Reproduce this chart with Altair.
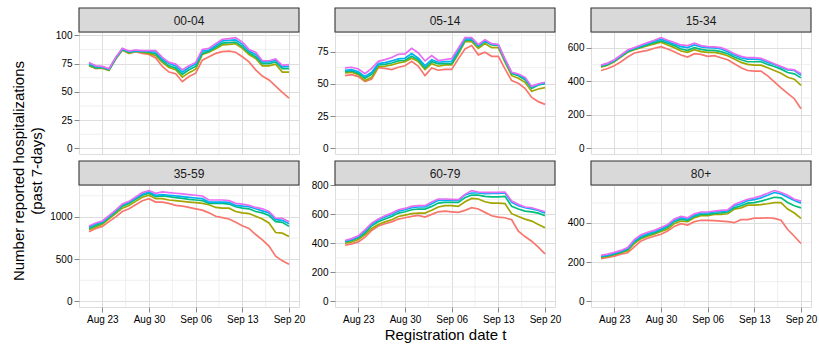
import altair as alt
import pandas as pd

FONT = "Liberation Sans"
W, H = 220, 122

dates = [d.strftime("%Y-%m-%d") for d in pd.date_range("2021-08-21", "2021-09-20")]
series = ["s1", "s2", "s3", "s4", "s5"]
colors = ["#F8766D", "#A3A500", "#00BF7D", "#00B0F6", "#E76BF3"]
ages = ["00-04", "05-14", "15-34", "35-59", "60-79", "80+"]

# ---- 00-04 ----
a0004_s1 = [73.5, 70.5, 71, 69.5, 79, 87, 84, 85.5, 84, 83, 80, 72.5, 67.5, 66, 59, 63.5, 66.5, 78, 81, 84, 85.5, 86, 85, 81, 76.5, 69.5, 64, 60.5, 55, 49.5, 44.5]
a0004_s2 = [73, 71, 71, 69, 79, 87, 84, 86, 85, 84, 82, 76, 71.5, 69.5, 63, 67, 70, 83, 85, 88, 91.5, 92, 92.5, 88.5, 83, 79.5, 73, 73, 74.5, 67.5, 67.5]
a0004_s3 = [74, 71.5, 71.5, 69.5, 79.5, 87.5, 85, 86, 85.5, 85, 83.5, 77.5, 73, 71, 65.5, 69.5, 72.5, 84, 86, 89.5, 93, 93.5, 94, 90, 84.5, 81, 75, 75, 76.5, 70.5, 70.5]
a0004_s4 = [75, 72.5, 72, 70, 80, 88, 85.5, 86.5, 86, 86, 85, 79, 75, 73, 67.5, 71.5, 74.5, 86, 87, 91, 95, 95.5, 96, 92, 86, 83, 76.5, 76.5, 78, 72, 72.5]
a0004_s5 = [76, 73, 72.5, 70.5, 80.5, 88.5, 86, 87, 86.5, 86.5, 86.5, 80.5, 76, 74.5, 69.5, 73, 76, 87.5, 88.5, 92.5, 96.5, 97, 98, 94, 87.5, 85, 77.5, 77.5, 79, 73.5, 74]

# ---- 05-14 ----
a0514_s1 = [56.3, 57.1, 55.6, 51.7, 53.7, 62.5, 62, 61, 62.8, 64, 67.4, 63.6, 56.3, 62.3, 60.5, 61.2, 61.2, 69.3, 77, 79.6, 72.4, 74.4, 71.3, 71.3, 61.5, 52.5, 50.4, 46.5, 39.5, 36.2, 34.1]
a0514_s2 = [58.4, 58.9, 57.1, 52.5, 55, 63.3, 63.6, 64.6, 66.1, 67.2, 69.8, 67.2, 61, 65.6, 63.6, 64.6, 64.6, 73.1, 82.7, 82.7, 77.5, 81.1, 78, 78, 66.7, 56.3, 54.3, 51.2, 44.2, 46, 47]
a0514_s3 = [59.4, 60, 58.1, 54.3, 57.4, 64.6, 65.1, 66.1, 67.7, 68.2, 71.3, 68.5, 62.3, 67.2, 65.4, 65.6, 65.6, 74.4, 83.7, 84, 79, 82.7, 80.1, 79.8, 67.7, 57.9, 56.3, 53.2, 46.5, 49.1, 50.1]
a0514_s4 = [60.5, 61, 59.4, 55.6, 58.9, 65.6, 66.4, 67.7, 69.3, 69.8, 73.4, 69.8, 64.1, 68.7, 66.7, 67.2, 67.4, 76, 84.8, 84.8, 79.6, 83.2, 80.6, 80.1, 68.5, 58.7, 57.1, 54.3, 47.3, 49.6, 50.6]
a0514_s5 = [62.3, 62.8, 61.5, 57.9, 62, 67.4, 68.7, 70.3, 72.9, 73.1, 77.5, 73.9, 67.7, 71.8, 68, 68.8, 69.5, 77.5, 85.8, 85.8, 80.4, 84, 81.1, 80.4, 69.3, 58.9, 57.6, 55, 48, 50.1, 51.2]

# ---- 15-34 ----
a1534_s1 = [464, 476, 492, 516, 544, 568, 576, 584, 596, 606, 592, 576, 556, 544, 564, 560, 548, 552, 540, 528, 504, 480, 464, 460, 460, 432, 396, 360, 328, 296, 236]
a1534_s2 = [484, 496, 516, 544, 572, 588, 600, 612, 622, 632, 616, 600, 580, 572, 588, 576, 572, 572, 564, 552, 532, 512, 500, 496, 496, 480, 464, 448, 424, 412, 376]
a1534_s3 = [488, 500, 520, 548, 576, 592, 604, 618, 630, 640, 626, 612, 592, 584, 600, 590, 584, 584, 576, 564, 544, 528, 516, 516, 516, 500, 488, 472, 452, 444, 420]
a1534_s4 = [492, 504, 524, 552, 582, 596, 610, 624, 638, 650, 636, 622, 606, 600, 616, 604, 600, 598, 592, 576, 556, 540, 532, 532, 528, 512, 500, 484, 468, 464, 436]
a1534_s5 = [496, 508, 528, 556, 586, 600, 616, 630, 644, 660, 644, 630, 616, 612, 626, 612, 606, 604, 600, 584, 564, 548, 540, 540, 536, 520, 504, 488, 472, 468, 444]

# ---- 35-59 ----
a3559_s1 = [824, 864, 888, 944, 1000, 1064, 1096, 1144, 1192, 1216, 1176, 1176, 1160, 1136, 1128, 1112, 1096, 1080, 1048, 1008, 992, 976, 936, 896, 864, 792, 728, 656, 536, 480, 440]
a3559_s2 = [848, 880, 912, 976, 1040, 1104, 1136, 1184, 1232, 1256, 1216, 1216, 1200, 1192, 1184, 1176, 1168, 1160, 1144, 1112, 1104, 1104, 1064, 1048, 1040, 1008, 976, 928, 816, 808, 768]
a3559_s3 = [864, 900, 928, 992, 1056, 1128, 1160, 1208, 1256, 1280, 1240, 1248, 1240, 1228, 1220, 1208, 1200, 1192, 1160, 1160, 1160, 1152, 1120, 1104, 1096, 1064, 1048, 1016, 944, 936, 888]
a3559_s4 = [880, 916, 944, 1008, 1072, 1144, 1176, 1224, 1272, 1296, 1256, 1264, 1256, 1248, 1240, 1232, 1224, 1216, 1176, 1176, 1176, 1172, 1136, 1128, 1120, 1096, 1072, 1048, 968, 960, 920]
a3559_s5 = [892, 928, 952, 1016, 1080, 1152, 1184, 1236, 1288, 1312, 1280, 1296, 1288, 1280, 1272, 1264, 1256, 1248, 1200, 1200, 1200, 1192, 1160, 1152, 1136, 1112, 1096, 1064, 984, 984, 944]

# ---- 60-79 ----
a6079_s1 = [386, 396, 409, 442, 488, 518, 534, 547, 566, 575, 584, 591, 580, 598, 616, 621, 616, 612, 626, 644, 635, 612, 589, 580, 575, 561, 483, 446, 414, 373, 327]
a6079_s2 = [400, 409, 426, 460, 501, 529, 547, 561, 584, 593, 603, 607, 607, 626, 649, 658, 658, 653, 685, 708, 704, 685, 676, 676, 672, 603, 584, 566, 552, 529, 506]
a6079_s3 = [409, 419, 437, 471, 520, 547, 566, 584, 607, 616, 630, 635, 635, 653, 676, 681, 681, 681, 713, 731, 731, 722, 718, 718, 722, 653, 635, 621, 616, 607, 589]
a6079_s4 = [414, 426, 444, 483, 531, 559, 580, 598, 621, 630, 644, 649, 649, 672, 695, 695, 695, 695, 731, 745, 745, 741, 743, 743, 745, 681, 658, 644, 635, 626, 607]
a6079_s5 = [419, 432, 451, 492, 538, 566, 589, 607, 630, 639, 653, 658, 658, 683, 704, 704, 702, 699, 736, 762, 752, 750, 750, 750, 752, 690, 667, 649, 644, 630, 616]

# ---- 80+ ----
a80_s1 = [217, 223, 230, 240, 247, 277, 307, 321, 331, 341, 358, 381, 395, 388, 405, 412, 412, 410, 408, 405, 400, 415, 415, 423, 423, 425, 422, 412, 365, 331, 294]
a80_s2 = [223, 228, 237, 247, 257, 294, 319, 331, 341, 355, 368, 395, 408, 405, 425, 435, 435, 442, 442, 445, 469, 475, 489, 489, 492, 496, 502, 502, 469, 449, 422]
a80_s3 = [227, 232, 240, 250, 264, 301, 324, 338, 348, 361, 378, 405, 418, 412, 432, 442, 442, 447, 450, 454, 475, 486, 499, 502, 509, 519, 529, 526, 502, 486, 475]
a80_s4 = [230, 235, 245, 255, 269, 307, 331, 344, 355, 368, 385, 412, 425, 418, 438, 449, 449, 454, 457, 459, 486, 496, 512, 517, 526, 539, 553, 546, 529, 512, 499]
a80_s5 = [234, 240, 249, 259, 274, 314, 338, 351, 361, 375, 391, 418, 432, 425, 445, 454, 454, 459, 462, 465, 492, 506, 519, 526, 536, 549, 563, 553, 539, 519, 509]

panel_values = {
    "00-04": [a0004_s1, a0004_s2, a0004_s3, a0004_s4, a0004_s5],
    "05-14": [a0514_s1, a0514_s2, a0514_s3, a0514_s4, a0514_s5],
    "15-34": [a1534_s1, a1534_s2, a1534_s3, a1534_s4, a1534_s5],
    "35-59": [a3559_s1, a3559_s2, a3559_s3, a3559_s4, a3559_s5],
    "60-79": [a6079_s1, a6079_s2, a6079_s3, a6079_s4, a6079_s5],
    "80+": [a80_s1, a80_s2, a80_s3, a80_s4, a80_s5],
}

major_y = {
    "00-04": [0, 25, 50, 75, 100],
    "05-14": [0, 25, 50, 75],
    "15-34": [0, 200, 400, 600],
    "35-59": [0, 500, 1000],
    "60-79": [0, 200, 400, 600, 800],
    "80+": [0, 200, 400],
}
minor_y = {
    "00-04": [12.5, 37.5, 62.5, 87.5],
    "05-14": [12.5, 37.5, 62.5, 87.5],
    "15-34": [100, 300, 500],
    "35-59": [250, 750, 1250],
    "60-79": [100, 300, 500, 700],
    "80+": [100, 300, 500],
}
major_x_days = [(8, 23), (8, 30), (9, 6), (9, 13), (9, 20)]
minor_x = ["2021-08-26T12:00:00Z", "2021-09-02T12:00:00Z", "2021-09-09T12:00:00Z", "2021-09-16T12:00:00Z"]

x_axis_values = [alt.DateTime(year=2021, month=m, date=d, utc=True) for m, d in major_x_days]
x_domain = [alt.DateTime(year=2021, month=8, date=19, hours=12, utc=True),
            alt.DateTime(year=2021, month=9, date=21, hours=12, utc=True)]

GRID = "#EBEBEB"


def make_panel(idx, age):
    vals = panel_values[age]
    rows = []
    for s, arr in zip(series, vals):
        for d, v in zip(dates, arr):
            rows.append({"date": d, "series": s, "value": v})
    df = pd.DataFrame(rows)
    hi = max(max(a) for a in vals)
    pad = 0.05 * hi
    ydom = [-pad, hi + pad]
    bottom = idx >= 3

    xaxis_kw = dict(values=x_axis_values, labelExpr="utcFormat(datum.value, '%b %d')", grid=True,
                    labels=bottom, ticks=bottom, domain=False, labelFlush=False,
                    titleFontWeight="normal", titleFontSize=15, titleColor="black", titlePadding=3)
    if idx == 4:
        xaxis_kw["title"] = "Registration date t"
    else:
        xaxis_kw["title"] = None
    xaxis = alt.Axis(**xaxis_kw)
    yaxis = alt.Axis(values=major_y[age], format="d", grid=True, domain=False, title=None, labelFlush=False)
    xscale = alt.Scale(type="utc", domain=x_domain)
    yscale = alt.Scale(domain=ydom, nice=False, zero=False)

    lines = alt.Chart(df).mark_line(strokeWidth=1.7).encode(
        x=alt.X("date:T", scale=xscale, axis=xaxis),
        y=alt.Y("value:Q", scale=yscale, axis=yaxis),
        color=alt.Color("series:N", scale=alt.Scale(domain=series, range=colors), legend=None),
    )
    gy = alt.Chart(pd.DataFrame({"value": minor_y[age]})).mark_rule(color=GRID, strokeWidth=0.8).encode(
        y=alt.Y("value:Q", scale=yscale, axis=yaxis))
    gx = alt.Chart(pd.DataFrame({"date": minor_x})).mark_rule(color=GRID, strokeWidth=0.8).encode(
        x=alt.X("date:T", scale=xscale, axis=xaxis))

    strip_df = pd.DataFrame({"label": [age]})
    rect = alt.Chart(strip_df).mark_rect(fill="#D9D9D9", stroke="#333333", strokeWidth=1.1).encode(
        x=alt.value(0), x2=alt.value(W), y=alt.value(-24), y2=alt.value(0))
    txt = alt.Chart(strip_df).mark_text(fontSize=12, color="#1A1A1A", font=FONT,
                                         align="center", baseline="middle").encode(
        x=alt.value(W / 2), y=alt.value(-11.5), text="label:N")

    layers = [gy, gx, lines, rect, txt]
    if idx == 0:
        anchor = alt.Chart(strip_df).mark_rect(opacity=0).encode(
            x=alt.value(-78), x2=alt.value(-77), y=alt.value(-31), y2=alt.value(-30))
        ytitle = alt.Chart(strip_df).mark_text(
            text=["Number reported hospitalizations", "(past 7-days)"], angle=270, fontSize=15,
            font=FONT, color="black", lineHeight=18, align="center", baseline="middle").encode(
            x=alt.value(-60), y=alt.value(139))
        layers += [anchor, ytitle]
    return alt.layer(*layers).properties(width=W, height=H)


panels = [make_panel(i, a) for i, a in enumerate(ages)]

chart = alt.concat(*panels, columns=3, spacing={"row": 31, "column": 36}, bounds="flush",
                   padding=0).configure_view(
    stroke="#333333", strokeWidth=1.2
).configure_axis(
    labelFont=FONT, labelFontSize=12, labelColor="#4D4D4D", tickColor="#333333",
    tickSize=4, tickWidth=1.1, labelPadding=3, gridColor=GRID, gridWidth=1.5,
    titleFont=FONT, titleFontSize=15, titleColor="black", titleFontWeight="normal", titlePadding=3
).configure(background="white")

chart.save("out.html", embed_options={"renderer": "svg", "actions": False})
